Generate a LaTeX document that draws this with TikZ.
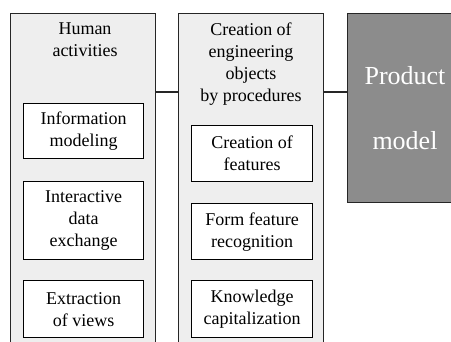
\documentclass[tikz,border=0pt]{standalone}
\usepackage{fontspec}
\setmainfont{Liberation Serif}
\begin{document}
\begin{tikzpicture}[x=1pt,y=-1pt,
  panel/.style={draw=black!85, line width=1.3pt, fill=gray!13, anchor=north west, inner sep=0pt, minimum width=145pt, minimum height=345pt},
  itembox/.style={draw=black, line width=1.3pt, fill=white, align=center, inner sep=0pt, anchor=north west, minimum width=120pt, font=\fontsize{18}{22}\selectfont},
  title/.style={align=center, anchor=north, inner sep=0pt, font=\fontsize{18}{22}\selectfont},
  prod/.style={draw=black!85, line width=1.3pt, fill=black!45, anchor=north west, inner sep=0pt, minimum width=115pt, minimum height=189pt},
  link/.style={line width=1.3pt, draw=black!85}]
\useasboundingbox (0,0) rectangle (451,342);
\clip (0,0) rectangle (451,342);
% panels
\node[panel] (hp) at (10,13) {};
\node[panel] (mp) at (178,13) {};
\node[prod] (pm) at (347,13) {};
% titles
\node[title] (ht) at (85,23) {Human\\activities};
\node[title] (mt) at (251,23) {Creation of\\engineering\\objects\\by procedures};
\node[align=center, text=white, inner sep=0pt, font=\fontsize{26}{65}\selectfont] (pt) at (405,108) {Product\\model};
% items left
\node[itembox, minimum height=55pt] (im) at (23,103) {Information\\modeling};
\node[itembox, minimum height=78pt] (ide) at (23,181) {Interactive\\data\\exchange};
\node[itembox, minimum height=57pt] (ev) at (23,280) {Extraction\\of views};
% items middle
\node[itembox, minimum width=121pt, minimum height=56pt] (cf) at (191,125) {Creation of\\features};
\node[itembox, minimum width=121pt, minimum height=56pt] (ffr) at (191,203) {Form feature\\recognition};
\node[itembox, minimum width=121pt, minimum height=57pt] (kc) at (191,280) {Knowledge\\capitalization};
% connectors
\coordinate (lk) at (0,92);
\draw[link] (hp.east |- lk) -- (mp.west |- lk);
\draw[link] (mp.east |- lk) -- (pm.west |- lk);
\end{tikzpicture}
\end{document}
